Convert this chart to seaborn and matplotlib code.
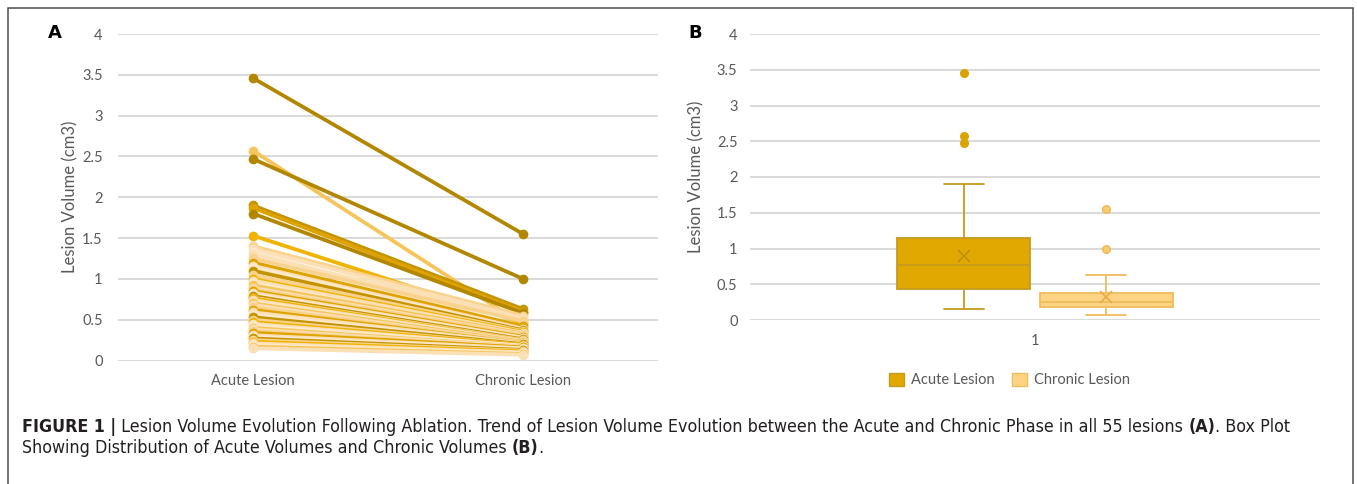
import numpy as np
import pandas as pd
import seaborn as sns
import matplotlib.pyplot as plt
from matplotlib import font_manager as fm
from matplotlib.patches import Rectangle, Patch

# lesion volumes (cm3), one entry per lesion, acute and chronic in the same order
acute = [3.46, 2.57, 2.47, 1.90, 1.87, 1.80, 1.53, 1.40, 1.37, 1.33, 1.30,
         1.25, 1.20, 1.16, 1.14, 1.10, 1.05, 1.00, 0.98, 0.95, 0.92, 0.89,
         0.87, 0.85, 0.83, 0.81, 0.79, 0.77, 0.76, 0.74, 0.72, 0.70, 0.68,
         0.65, 0.62, 0.59, 0.56, 0.53, 0.50, 0.47, 0.45, 0.43, 0.40, 0.38,
         0.36, 0.34, 0.31, 0.29, 0.27, 0.25, 0.23, 0.21, 0.19, 0.17, 0.15]
chronic = [1.55, 0.44, 1.00, 0.63, 0.60, 0.58, 0.46, 0.55, 0.52, 0.40, 0.50,
           0.48, 0.42, 0.39, 0.37, 0.37, 0.36, 0.35, 0.34, 0.30, 0.33, 0.32,
           0.31, 0.29, 0.28, 0.27, 0.26, 0.25, 0.24, 0.24, 0.23, 0.23, 0.22,
           0.22, 0.21, 0.21, 0.20, 0.20, 0.19, 0.19, 0.18, 0.18, 0.17, 0.17,
           0.16, 0.16, 0.15, 0.14, 0.13, 0.12, 0.11, 0.10, 0.09, 0.08, 0.07]
phases = ['Acute Lesion', 'Chronic Lesion']
group_label = '1'
y_ticks = [0, 0.5, 1, 1.5, 2, 2.5, 3, 3.5, 4]
y_ticklabels = ['0', '0.5', '1', '1.5', '2', '2.5', '3', '3.5', '4']
y_title = 'Lesion Volume (cm3)'

ids = [f'L{i + 1:02d}' for i in range(len(acute))]
df = pd.DataFrame({
    'lesion': ids * 2,
    'phase': [phases[0]] * len(acute) + [phases[1]] * len(chronic),
    'volume': acute + chronic,
})
df['grp'] = group_label

# colours
dark, dark2, gold, bright = '#B38600', '#C49300', '#DFA300', '#EFB300'
light, peach, pale, paler = '#F6C55A', '#F9D38E', '#FBE0B5', '#FCE9CC'
top_cols = [dark, light, dark, dark2, gold, dark, bright, peach, pale, paler, pale]
rest_cols = [peach, gold, pale, paler, dark2, peach, bright, pale, paler, light, pale]
line_cols = top_cols + rest_cols * 4

acute_fill, chronic_fill = '#E0A800', '#FDD483'
acute_edge, chronic_edge = '#C69A1E', '#EFBC5C'
acute_mean, chronic_mean = '#BF8F00', '#E6AC45'
grid_col = '#D9D9D9'
text_col = '#595959'

sns.set_theme(style='white')
plt.rcParams['font.family'] = ['Lato', 'DejaVu Sans']

fig = plt.figure(figsize=(13.57, 4.84), dpi=100)
W, H = 1357, 484

# ---------- panel A ----------
axA = fig.add_axes([118 / W, 1 - 360.5 / H, 540 / W, 326.5 / H])
sns.lineplot(data=df, x='phase', y='volume', hue='lesion', hue_order=ids,
             palette=line_cols, estimator=None, marker='o', markersize=7,
             markeredgewidth=0, linewidth=2.7, legend=False, ax=axA)
axA.set_xlim(-0.5, 1.5)

# ---------- panel B ----------
axB = fig.add_axes([750 / W, 1 - 320 / H, 570 / W, 286 / H])
sns.boxplot(data=df, x='grp', y='volume', hue='phase', hue_order=phases,
            palette=[acute_fill, chronic_fill], width=0.5, gap=0.07,
            linecolor=acute_edge, linewidth=1.3, saturation=1, showmeans=True,
            meanprops=dict(marker='x', markersize=9, markeredgecolor=acute_mean,
                           markeredgewidth=1.2),
            flierprops=dict(marker='o', markersize=5.5),
            legend=False, ax=axB)
axB.set_xlim(-0.5, 0.5)

# recolour the chronic box parts, shorten the caps
box_w = 0.25 * (1 - 0.07)
for p in axB.patches:
    cx = p.get_path().vertices[:, 0].mean()
    if cx > 0:
        p.set_edgecolor(chronic_edge)
for ln in axB.lines:
    xd = np.asarray(ln.get_xdata(), dtype=float)
    yd = np.asarray(ln.get_ydata(), dtype=float)
    if len(xd) == 0:
        continue
    chron = xd.mean() > 0
    mk = ln.get_marker()
    if mk == 'o':
        ln.set_markerfacecolor('#F8CB75' if chron else '#D9A300')
        ln.set_markeredgecolor('#EFB950' if chron else '#D9A300')
    elif mk == 'x':
        ln.set_markeredgecolor(chronic_mean if chron else acute_mean)
    else:
        ln.set_color(chronic_edge if chron else acute_edge)
        if len(xd) == 2 and yd[0] == yd[1] and (xd.max() - xd.min()) < 0.9 * box_w:
            c = xd.mean()
            ln.set_xdata([c - 0.15 * box_w, c + 0.15 * box_w])

handles = [Patch(facecolor=acute_fill, edgecolor=acute_edge, label=phases[0]),
           Patch(facecolor=chronic_fill, edgecolor=chronic_edge, label=phases[1])]
axB.legend(handles=handles, loc='center', bbox_to_anchor=(0.456, -0.21),
           ncol=2, frameon=False, fontsize=10.5, handlelength=1.0,
           handleheight=1.0, handletextpad=0.5, columnspacing=1.2,
           labelcolor=text_col)

for ax, pad_y in [(axA, 11), (axB, 9)]:
    ax.set_ylim(0, 4)
    ax.set_yticks(y_ticks)
    ax.set_yticklabels(y_ticklabels)
    ax.grid(axis='y', color=grid_col, linewidth=1.4)
    ax.set_axisbelow(True)
    for s in ax.spines.values():
        s.set_visible(False)
    ax.tick_params(axis='both', length=0, labelsize=10.5, labelcolor=text_col)
    ax.tick_params(axis='y', pad=pad_y)
    ax.tick_params(axis='x', pad=10)
    ax.set_xlabel('')
    ax.set_ylabel(y_title, fontsize=12, color=text_col)

axA.yaxis.set_label_coords(-(118 - 78) / 540, 0.5)
axB.yaxis.set_label_coords(-(750 - 704) / 570, 0.5)

fig.text(55 / W, 1 - 33 / H, 'A', fontsize=13, fontweight='bold',
         family='DejaVu Sans', ha='center', va='center', color='black')
fig.text(695 / W, 1 - 33 / H, 'B', fontsize=13, fontweight='bold',
         family='DejaVu Sans', ha='center', va='center', color='black')

# outer frame (open at the bottom)
fig.add_artist(Rectangle((7.5 / W, -0.1), (1353 - 7.5) / W, 1.1 - 8.5 / H,
                         transform=fig.transFigure, fill=False,
                         edgecolor='#4D4D4D', linewidth=1.1, clip_on=False))

# caption: prefer an upright condensed face if one is installed
cond = [f for f in fm.fontManager.ttflist
        if ('Narrow' in f.name or 'Condensed' in f.name or
            str(f.stretch) in ('condensed', 'semi-condensed', '500', '600'))
        and 'Mono' not in f.name and f.style == 'normal']
reg = [f for f in cond if f.weight in (400, 'normal', 'regular')]
bold = [f for f in cond if f.weight in (700, 'bold')]
if reg:
    fp_reg = fm.FontProperties(fname=reg[0].fname)
    fp_bold = fm.FontProperties(fname=(bold[0].fname if bold else reg[0].fname))
else:
    fp_reg = fm.FontProperties(family='Liberation Sans')
    fp_bold = fm.FontProperties(family='Liberation Sans', weight='bold')

cap_lines = [
    [('FIGURE 1 |', True),
     (' Lesion Volume Evolution Following Ablation. Trend of Lesion Volume '
      'Evolution between the Acute and Chronic Phase in all 55 lesions ', False),
     ('(A)', True), ('. Box Plot', False)],
    [('Showing Distribution of Acute Volumes and Chronic Volumes ', False),
     ('(B)', True), ('.', False)],
]
renderer = fig.canvas.get_renderer()


def draw_caption(size, keep=True):
    arts = []
    widths = []
    for line, ypx in zip(cap_lines, [427, 448]):
        x = 22 / W
        for txt, is_b in line:
            fp = (fp_bold if is_b else fp_reg).copy()
            fp.set_size(size)
            t = fig.text(x, 1 - ypx / H, txt, fontproperties=fp,
                         color='#231F20', va='center', ha='left')
            x += t.get_window_extent(renderer).width / W
            arts.append(t)
        widths.append(x * W - 22)
    if not keep:
        for a in arts:
            a.remove()
    return widths[0]


w10 = draw_caption(10, keep=False)
size = min(13.5, 10 * 1268 / w10)
draw_caption(size)

fig.savefig('out.png', dpi=100)
